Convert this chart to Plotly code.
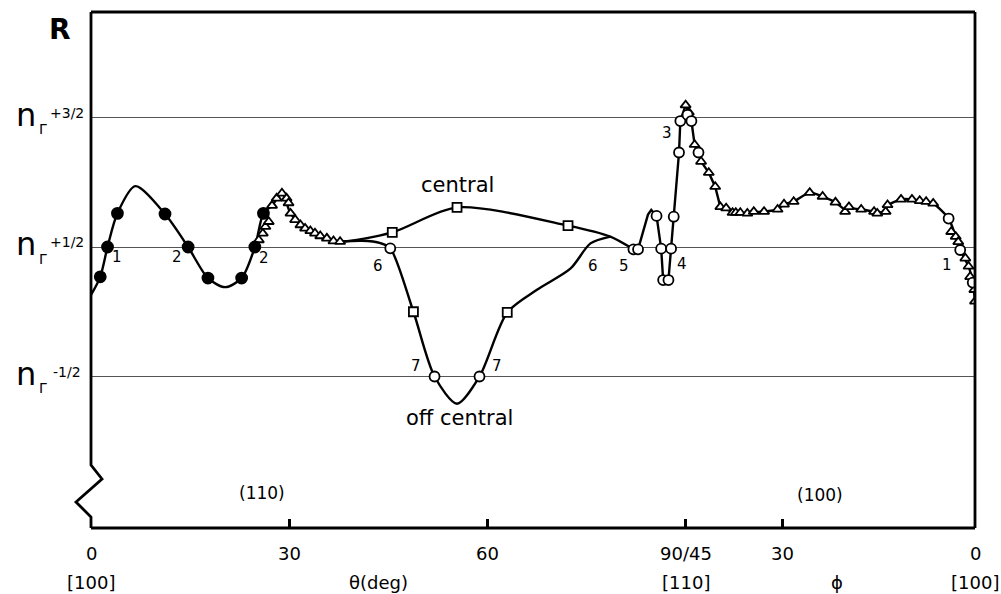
import plotly.graph_objects as go

# ---------------- data (R in units: n_Γ+1/2 = 0, n_Γ+3/2 = 1, n_Γ-1/2 = -1) ----------------
# θ branch (0 .. 90 deg)
theta_filled = [1.4, 2.5, 4.0, 11.2, 14.7, 17.7, 22.8, 24.8, 26.1]
R_filled = [-0.23, 0.0, 0.26, 0.255, 0.0, -0.24, -0.24, 0.0, 0.26]

theta_tri = [25.4, 26.0, 26.4, 26.9, 27.4, 28.1, 28.9, 29.6, 29.9, 30.2, 30.9, 31.7,
             32.4, 33.2, 33.9, 34.7, 35.7, 36.7, 37.7]
R_tri = [0.054, 0.105, 0.157, 0.195, 0.32, 0.376, 0.415, 0.376, 0.34, 0.26, 0.21, 0.17,
         0.144, 0.124, 0.106, 0.085, 0.067, 0.046, 0.041]

theta_sq = [45.6, 55.4, 72.2, 48.8, 63.0]
R_sq = [0.113, 0.306, 0.165, -0.5, -0.505]

theta_circ = [45.3, 52.0, 58.8, 82.1, 82.8, 85.6, 86.3, 86.6, 87.4, 87.8, 88.2, 89.0, 89.2]
R_circ = [-0.01, -1.0, -1.0, -0.018, -0.018, 0.24, -0.013, -0.255, -0.255, -0.013, 0.234, 0.73, 0.973]

# φ branch (45 .. 0 deg)
phi_tri = [45.0, 44.5, 43.6, 42.6, 41.4, 40.4, 39.6, 38.7, 37.7, 37.2, 36.5, 35.4, 34.4, 32.8,
           30.7, 29.7, 28.2, 25.7, 23.7, 21.7, 20.2, 19.6, 17.7, 15.7, 15.2, 13.9, 13.6, 11.5,
           9.8, 8.6, 7.6, 6.5, 3.7, 3.0, 2.6, 1.5, 1.0, 0.75, 0.1, 0.0]
R_phi_tri = [1.096, 1.04, 0.79, 0.66, 0.574, 0.466, 0.31, 0.30, 0.265, 0.265, 0.265, 0.26, 0.273, 0.273,
             0.29, 0.33, 0.35, 0.42, 0.39, 0.345, 0.273, 0.31, 0.29, 0.273, 0.26, 0.273, 0.325, 0.368,
             0.368, 0.357, 0.35, 0.337, 0.118, 0.08, 0.04, -0.087, -0.15, -0.23, -0.33, -0.42]

phi_circ = [44.7, 44.1, 43.0, 4.1, 2.3, 0.35]
R_phi_circ = [1.02, 0.973, 0.73, 0.22, -0.023, -0.275]

# drawn curves
curveA_theta = [0, 1.4, 2.5, 4.0, 6.7, 11.2, 14.7, 17.7, 20.3, 22.8, 24.8, 26.1, 27.4, 28.9,
                30.2, 31.7, 33.9, 35.7, 37.7, 45.6, 55.4, 72.2, 78.6, 82.1]
curveA_R = [-0.37, -0.23, 0.0, 0.26, 0.47, 0.255, 0.0, -0.24, -0.31, -0.24, 0.0, 0.26, 0.32, 0.415,
            0.26, 0.17, 0.106, 0.067, 0.041, 0.113, 0.306, 0.165, 0.08, -0.018]

curveB_theta = [82.1, 82.8, 84.3, 84.8, 85.6, 86.3, 86.6, 86.9, 87.4, 87.8, 88.2, 89.0, 89.2]
curveB_R = [-0.018, -0.018, 0.25, 0.286, 0.24, -0.013, -0.255, -0.29, -0.255, -0.013, 0.234, 0.73, 0.973]
curveB_phi = [45.0, 44.5, 44.1, 43.6, 43.0, 42.6, 41.4, 40.4, 39.6]
curveB_phi_R = [1.096, 1.04, 0.973, 0.79, 0.73, 0.66, 0.574, 0.466, 0.31]

curveC_phi = [39.6, 38.7, 37.2, 35.4, 34.4, 32.8, 30.7, 29.7, 28.2, 25.7, 23.7, 21.7, 20.2, 19.6,
              17.7, 15.7, 15.2, 13.9, 13.6, 11.5, 9.8, 7.6, 6.5, 4.1, 3.0, 2.3, 1.0, 0.35, 0.0]
curveC_R = [0.31, 0.29, 0.265, 0.26, 0.27, 0.273, 0.29, 0.33, 0.35, 0.42, 0.39, 0.345, 0.29, 0.30,
            0.29, 0.273, 0.265, 0.28, 0.32, 0.368, 0.368, 0.35, 0.337, 0.22, 0.08, -0.023, -0.15, -0.275, -0.42]

curveD_theta = [37.7, 41.0, 43.8, 45.3, 48.8, 52.0, 55.4, 58.8, 63.0, 67.5, 72.6, 75.6, 78.6]
curveD_R = [0.041, 0.048, 0.03, -0.01, -0.5, -1.0, -1.21, -1.0, -0.505, -0.33, -0.165, 0.028, 0.08]

# axis labels
xtick_theta = [0, 30, 60, 90]
xtick_phi = [30, 0]
xtick_text = ["0", "30", "60", "90/45", "30", "0"]

# ---------------- scale: φ branch placed after θ = 90 ----------------
K = 0.9733
X_END = 90 + 45 * K


def phi_x(vals):
    return [90 + (45 - v) * K for v in vals]


FONT = "DejaVu Sans"
fig = go.Figure()

line_style = dict(color="black", width=2.4)
fig.add_trace(go.Scatter(x=curveA_theta, y=curveA_R, mode="lines",
                         line=dict(**line_style, shape="spline", smoothing=0.8)))
fig.add_trace(go.Scatter(x=curveB_theta + phi_x(curveB_phi), y=curveB_R + curveB_phi_R, mode="lines",
                         line=dict(**line_style)))
fig.add_trace(go.Scatter(x=phi_x(curveC_phi), y=curveC_R, mode="lines",
                         line=dict(**line_style, shape="spline", smoothing=0.7)))
fig.add_trace(go.Scatter(x=curveD_theta, y=curveD_R, mode="lines",
                         line=dict(**line_style, shape="spline", smoothing=0.8)))

mline = dict(color="black", width=1.8)
fig.add_trace(go.Scatter(x=theta_tri + phi_x(phi_tri), y=R_tri + R_phi_tri, mode="markers",
                         marker=dict(symbol="triangle-up", size=9, color="white", line=mline)))
fig.add_trace(go.Scatter(x=theta_filled, y=R_filled, mode="markers",
                         marker=dict(symbol="circle", size=11, color="black", line=mline)))
fig.add_trace(go.Scatter(x=theta_sq, y=R_sq, mode="markers",
                         marker=dict(symbol="square", size=9, color="white", line=mline)))
fig.add_trace(go.Scatter(x=theta_circ + phi_x(phi_circ), y=R_circ + R_phi_circ, mode="markers",
                         marker=dict(symbol="circle", size=10, color="white", line=mline)))

tickvals = xtick_theta + phi_x(xtick_phi)

ann = []
# bottom tick labels
for xv, t in zip(tickvals, xtick_text):
    ann.append(dict(x=xv, y=0, xref="x", yref="paper", text=t, showarrow=False,
                    xanchor="center", yanchor="middle", yshift=-25, font=dict(size=18, family=FONT)))
row2 = [(0, "[100]"), ((378 - 91) / 6.607, "θ(deg)"), (90, "[110]"),
        ((837 - 91) / 6.607, "ϕ"), (X_END, "[100]")]
for xv, t in row2:
    ann.append(dict(x=xv, y=0, xref="x", yref="paper", text=t, showarrow=False,
                    xanchor="center", yanchor="middle", yshift=-54, font=dict(size=18, family=FONT)))

# y labels
for yv, frac in [(1, "+3/2"), (0, "+1/2"), (-1, "-1/2")]:
    ann.append(dict(x=0, y=yv, xref="paper", yref="y", text="n", showarrow=False,
                    xanchor="center", yanchor="middle", xshift=-65, yshift=3,
                    font=dict(size=32, family=FONT)))
    ann.append(dict(x=0, y=yv, xref="paper", yref="y", text="Γ", showarrow=False,
                    xanchor="center", yanchor="middle", xshift=-48.5, yshift=-11.5,
                    font=dict(size=14, family=FONT)))
    ann.append(dict(x=0, y=yv, xref="paper", yref="y", text=frac, showarrow=False,
                    xanchor="center", yanchor="middle", xshift=-24.5, yshift=5,
                    font=dict(size=14, family=FONT)))

ann.append(dict(x=0, y=1, xref="paper", yref="paper", text="<b>R</b>", showarrow=False,
                xanchor="center", yanchor="middle", xshift=-31, yshift=-17,
                font=dict(size=28, family=FONT)))

labels = [(3.94, -0.077, "1"), (13.0, -0.077, "2"), (26.2, -0.085, "2"), (43.4, -0.147, "6"),
          (49.2, -0.919, "7"), (61.4, -0.919, "7"), (76.0, -0.147, "6"), (80.7, -0.147, "5"),
          (87.2, 0.88, "3"), (89.4, -0.131, "4"), (129.6, -0.139, "1")]
for xv, yv, t in labels:
    ann.append(dict(x=xv, y=yv, text=t, showarrow=False, xanchor="center", yanchor="middle",
                    font=dict(size=15, family=FONT)))

for xv, yv, t, s in [(55.4, 0.479, "central", 21), (55.7, -1.32, "off central", 21),
                     (25.9, -1.90, "(110)", 17), (110.3, -1.915, "(100)", 17)]:
    ann.append(dict(x=xv, y=yv, text=t, showarrow=False, xanchor="center", yanchor="middle",
                    font=dict(size=s, family=FONT)))

# frame with axis break on the left
frame_w = 2.8
shapes = [
    dict(type="line", xref="paper", yref="paper", x0=0, x1=1, y0=1, y1=1, line=dict(color="black", width=frame_w)),
    dict(type="line", xref="paper", yref="paper", x0=0, x1=1, y0=0, y1=0, line=dict(color="black", width=frame_w)),
    dict(type="line", xref="paper", yref="paper", x0=1, x1=1, y0=0, y1=1, line=dict(color="black", width=frame_w)),
    dict(type="path", xref="paper", yref="paper",
         path="M 0 1 L 0 0.1221 L 0.01244 0.0950 L -0.01697 0.0504 L 0 0.0213 L 0 0",
         line=dict(color="black", width=frame_w)),
]

fig.update_layout(
    width=1001, height=594,
    margin=dict(l=91, r=26, t=12, b=66),
    paper_bgcolor="white", plot_bgcolor="white",
    showlegend=False,
    font=dict(family=FONT, color="black"),
    xaxis=dict(range=[0, X_END], showgrid=False, zeroline=False, showline=False,
               tickvals=tickvals, ticks="inside", ticklen=9, tickwidth=2.5, tickcolor="black",
               showticklabels=False),
    yaxis=dict(range=[-2.17, 1.815], tickvals=[-1, 0, 1], showgrid=True, gridcolor="#555",
               gridwidth=1, zeroline=False, showticklabels=False, ticks=""),
    annotations=ann,
    shapes=shapes,
)

fig.write_html("out.html", config={"displayModeBar": False},
               post_script="document.body.style.margin='0';")
